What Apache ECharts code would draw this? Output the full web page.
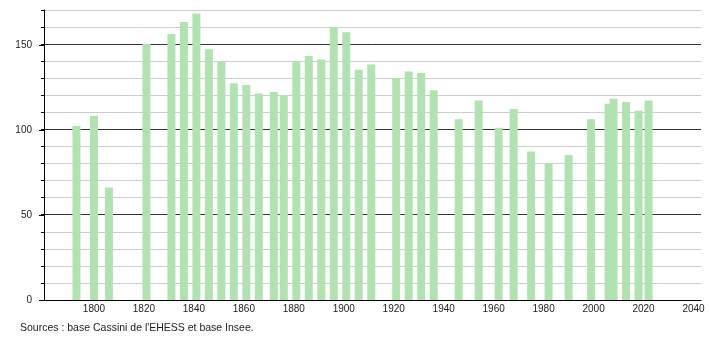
<!DOCTYPE html>
<html><head><meta charset="utf-8">
<script src="https://cdn.jsdelivr.net/npm/echarts@6/dist/echarts.min.js"></script>
<style>html,body{margin:0;padding:0;background:#fff}#c{width:710px;height:340px}</style>
</head><body><div id="c"></div>
<script>
const years = [1793,1800,1806,1821,1831,1836,1841,1846,1851,1856,1861,1866,1872,1876,1881,1886,1891,1896,1901,1906,1911,1921,1926,1931,1936,1946,1954,1962,1968,1975,1982,1990,1999,2006,2008,2013,2018,2022];
const population = [102,108,66,150,156,163,168,147,140,127,126,121,122,120,140,143,141,160,157,135,138,130,134,133,123,106,117,101,112,87,80,85,106,115,118,116,111,117];
const xTickLabels = [1800,1820,1840,1860,1880,1900,1920,1940,1960,1980,2000,2020,2040];
const yTickLabels = [0,50,100,150];
const sourceText = "Sources : base Cassini de l'EHESS et base Insee.";

const font = "'Liberation Sans', Arial, sans-serif";
const chart = echarts.init(document.getElementById('c'), null, {renderer: 'canvas'});
const seriesData = years.map((y, i) => [y, population[i]]);

chart.setOption({
  animation: false,
  grid: [
    {left: 44, right: 9, top: 10, bottom: 40},
    {left: 44, right: 9, top: 45, bottom: 40}
  ],
  xAxis: [
    {type: 'value', gridIndex: 0, min: 1780, max: 2043, interval: 20,
     axisLine: {show: true, onZero: false, lineStyle: {color: '#000', width: 1}},
     axisTick: {show: false}, splitLine: {show: false},
     axisLabel: {fontFamily: font, fontSize: 10, color: '#222', margin: 4,
       formatter: v => xTickLabels.includes(v) ? String(v) : ''}},
    {type: 'value', gridIndex: 1, min: 1780, max: 2043, show: false}
  ],
  yAxis: [
    {type: 'value', gridIndex: 0, min: 0, max: 170, interval: 10,
     axisLine: {show: true, lineStyle: {color: '#000', width: 1}},
     axisTick: {show: true, length: 3, lineStyle: {color: '#000'}},
     axisLabel: {show: false},
     splitLine: {show: true, lineStyle: {color: ['#333', '#ccc', '#ccc', '#ccc', '#ccc'], width: 1}}},
    {type: 'value', gridIndex: 1, min: 0, max: 150, interval: 50,
     axisLine: {show: false},
     axisTick: {show: true, length: 5, lineStyle: {color: '#000'}},
     splitLine: {show: false},
     axisLabel: {fontFamily: font, fontSize: 10, color: '#222', margin: 12,
       formatter: v => yTickLabels.includes(v) ? String(v) : ''}}
  ],
  series: [{
    type: 'bar', xAxisIndex: 0, yAxisIndex: 0, barWidth: 8,
    itemStyle: {color: '#b0e3b0'},
    data: seriesData
  }],
  graphic: [{
    type: 'text', left: 20, top: 323,
    style: {text: sourceText, fontFamily: font, fontSize: 10.5, fill: '#222'}
  }]
});
</script></body></html>
